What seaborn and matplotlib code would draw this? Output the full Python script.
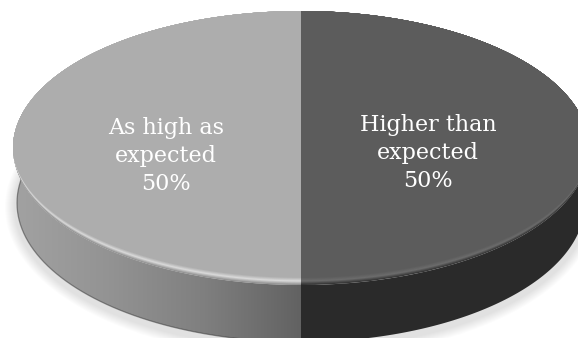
import numpy as np
import seaborn as sns
import matplotlib.pyplot as plt
from matplotlib.path import Path
from matplotlib.patches import PathPatch, Ellipse

labels = ["As high as\nexpected", "Higher than\nexpected"]
shares = [50, 50]
label_px = [(166, 156), (428, 153)]

W, H = 578, 338
CX, CY, RX, RY = 301, 148, 288, 137
# ellipse of the wall's bottom edge, in units of the top ellipse
BOT_CY, BOT_RX, BOT_RY = -55 / RY, 284 / RX, 139 / RY

sns.set_theme(style="white")

fig = plt.figure(figsize=(W / 100, H / 100), dpi=100)
ax = fig.add_axes([0, 0, 1, 1])

# soft shadow under the disc
for i in range(10):
    ax.add_patch(Ellipse((0, BOT_CY - 4 / RY), 2 * (BOT_RX + (12 - i) / RX), 2 * (BOT_RY + (12 - i) / RY),
                         fc="black", alpha=0.011, lw=0, zorder=1))

# side wall, left half has a gradient
t = np.linspace(np.pi / 2, 3 * np.pi / 2, 201)
ex, ey = np.cos(t), np.sin(t)
ex[[0, -1, 100]] = [0, 0, -1]
left_x = np.r_[ex, ex[::-1] * BOT_RX]
left_y = np.r_[ey, ey[::-1] * BOT_RY + BOT_CY]
left_path = Path(np.c_[left_x, left_y])
right_path = Path(np.c_[-left_x, left_y])

ax.add_patch(PathPatch(right_path, fc="#2a2a2a", lw=0, zorder=2))
clip = PathPatch(left_path, fc="none", lw=0, zorder=2)
ax.add_patch(clip)
grad = np.linspace(0, 1, 256).reshape(1, -1)
wall_cmap = sns.blend_palette(["#a2a2a2", "#939393", "#7f7f7f", "#626262"], as_cmap=True)
im = ax.imshow(grad, cmap=wall_cmap, extent=(-1, 0, -1.5, 1), aspect="auto", zorder=2)
im.set_clip_path(clip)

# dark line along the foot of the wall
ax.plot(ex[40:] * BOT_RX, ey[40:] * BOT_RY + BOT_CY, color="#333333", lw=0.9, alpha=0.5, zorder=2.5)

# top face comes from the shares
wedges, _ = ax.pie(shares, colors=["#8f8f8f", "#333333"], startangle=90, radius=1,
                   wedgeprops={"linewidth": 0})
for w in wedges:
    w.set_zorder(3)

# bevel: lower half of the face pushed up step by step, so it
# shows along the front edge and fades out toward the back
N = 13
rim_left = sns.blend_palette(["#8f8f8f", "#dadada", "#adadad", "#adadad"], N)
rim_right = sns.blend_palette(["#333333", "#6c6c6c", "#5c5c5c", "#5c5c5c"], N)
for i in range(1, N):
    yy = np.where(ey < 0, ey + i * 0.9 / RY * np.abs(ey) ** 0.5, ey)
    ax.fill(ex, yy, color=rim_left[i], lw=0, zorder=3 + i)
    ax.fill(-ex, yy, color=rim_right[i], lw=0, zorder=3 + i)

for (px, py), lab, share in zip(label_px, labels, shares):
    ax.text((px - CX) / RX, (CY - py) / RY, f"{lab}\n{share}%", color="white", ha="center", va="center",
            fontsize=16, family="DejaVu Serif", linespacing=1.38, zorder=30)

ax.set_aspect("auto")
ax.set_xlim(-CX / RX, (W - CX) / RX)
ax.set_ylim((CY - H) / RY, CY / RY)
ax.axis("off")
fig.savefig("out.png", dpi=100)
